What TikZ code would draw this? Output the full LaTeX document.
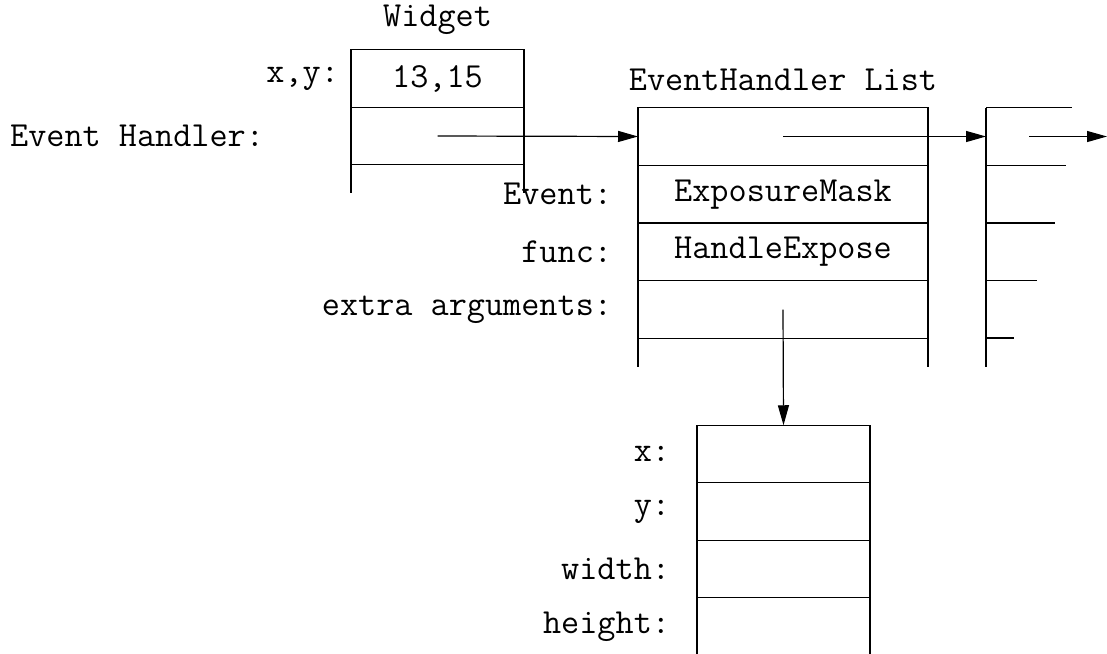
\documentclass[tikz,border=0pt]{standalone}
\usetikzlibrary{arrows.meta}
\tikzset{
  base/.style={font=\ttfamily\fontsize{17.6}{20}\selectfont, inner sep=0pt, outer sep=0pt},
  cell/.style={base, draw, line width=0.6pt},
  wcell/.style={cell, minimum width=86.5pt, minimum height=28.75pt},
  ecell/.style={cell, minimum width=145pt, minimum height=28.85pt},
  bcell/.style={cell, minimum width=86.5pt, minimum height=28.75pt},
  lab/.style={base, anchor=east},
  ttl/.style={base},
  ln/.style={line width=0.6pt},
  arr/.style={line width=0.6pt, -{Triangle[length=10pt, width=5.5pt]}},
}
\begin{document}
\begin{tikzpicture}[x=0.5pt, y=-0.5pt]
\useasboundingbox (0,0) rectangle (1107,653);
% Widget
\node[ttl] (wtitle) at (437.5,20) {Widget};
\node[wcell] (w1) at (437.5,78.5) {13,15};
\node[wcell] (w2) at (437.5,136) {};
\draw[ln] (w2.south west) -- ++(0,28);
\draw[ln] (w2.south east) -- ++(0,28);
\node[lab] (lxy) at (339,78.5) {x,y:};
\node[lab] (leh) at (264,136) {Event Handler:};
% EventHandler List
\node[ttl] (etitle) at (783,80) {EventHandler List};
\node[ecell] (e1) at (783,136.5) {};
\node[ecell] (e2) at (783,194.2) {ExposureMask};
\node[ecell] (e3) at (783,251.9) {HandleExpose};
\node[ecell] (e4) at (783,309.6) {};
\draw[ln] (e4.south west) -- ++(0,29);
\draw[ln] (e4.south east) -- ++(0,29);
\node[lab] (lev) at (612,194.2) {Event:};
\node[lab] (lfu) at (612,251.9) {func:};
\node[lab] (lex) at (612,309.6) {extra arguments:};
% partial next list element
\coordinate (p0) at (986,107.5);
\coordinate (pin) at (986,136.5);
\coordinate (pout) at (1029,136.5);
\coordinate (pend) at (1107,136.5);
\draw[ln] (p0) -- (986,367);
\draw[ln] (p0) -- (1072,107.5);
\draw[ln] (986,165.5) -- (1066,165.5);
\draw[ln] (986,223) -- (1055,223);
\draw[ln] (986,280.5) -- (1037,280.5);
\draw[ln] (986,338) -- (1014,338);
% bottom box
\node[bcell] (b1) at (783.5,454) {};
\node[bcell] (b2) at (783.5,511.5) {};
\node[bcell] (b3) at (783.5,569) {};
\draw[ln] (b3.south west) -- ++(0,56);
\draw[ln] (b3.south east) -- ++(0,56);
\node[lab] (lx) at (670,454) {x:};
\node[lab] (ly) at (670,511.5) {y:};
\node[lab] (lw) at (670,569) {width:};
\node[lab] (lh) at (670,626.5) {height:};
% arrows
\draw[arr] (w2.center) -- (e1.west);
\draw[arr] (e1.center) -- (pin);
\draw[arr] (pout) -- (pend);
\draw[arr] (e4.center) -- (b1.north);
\end{tikzpicture}
\end{document}
